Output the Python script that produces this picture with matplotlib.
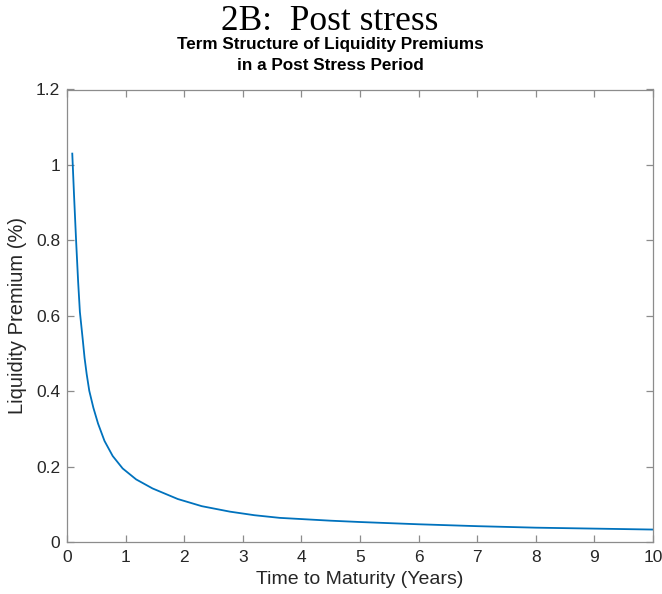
import matplotlib
matplotlib.use("Agg")
import matplotlib.pyplot as plt

# Data
maturity_years = [0.09, 0.12, 0.155, 0.19, 0.22, 0.25, 0.27, 0.30, 0.336, 0.38,
                  0.45, 0.53, 0.64, 0.78, 0.95, 1.18, 1.46, 1.89, 2.3, 2.78,
                  3.2, 3.63, 4.5, 5.0, 6.0, 7.0, 8.0, 9.0, 10.0]
liquidity_premium = [1.03, 0.92, 0.80, 0.69, 0.61, 0.565, 0.535, 0.488, 0.445,
                     0.401, 0.356, 0.314, 0.268, 0.228, 0.195, 0.166, 0.142,
                     0.114, 0.095, 0.0805, 0.071, 0.064, 0.0565, 0.053, 0.047,
                     0.042, 0.038, 0.0355, 0.033]
x_ticks = [0, 1, 2, 3, 4, 5, 6, 7, 8, 9, 10]
y_ticks = [0, 0.2, 0.4, 0.6, 0.8, 1.0, 1.2]
y_tick_labels = ["0", "0.2", "0.4", "0.6", "0.8", "1", "1.2"]

W, H = 662, 594
fig = plt.figure(figsize=(W / 100, H / 100), dpi=100)
ax = fig.add_axes([67 / W, 1 - 542 / H, (653 - 67) / W, (542 - 89.5) / H])

ax.plot(maturity_years, liquidity_premium, color="#0072BD", lw=1.3)
ax.set_xlim(0, 10)
ax.set_ylim(0, 1.2)
ax.set_xticks(x_ticks)
ax.set_xticklabels([str(t) for t in x_ticks])
ax.set_yticks(y_ticks)
ax.set_yticklabels(y_tick_labels)

axis_col = "#262626"
spine_col = "#8c8c8c"
for s in ax.spines.values():
    s.set_color(spine_col)
    s.set_linewidth(0.9)
ax.tick_params(direction="in", length=4.7, width=0.9, color=spine_col,
               top=True, right=True, labelsize=12.5, labelcolor=axis_col,
               pad=6)
for lab in ax.get_xticklabels() + ax.get_yticklabels():
    lab.set_family("Liberation Sans")
ax.tick_params(axis="y", pad=5)

ax.set_xlabel("Time to Maturity (Years)", fontsize=14, color=axis_col,
              family="Liberation Sans", labelpad=4)
ax.set_ylabel("Liquidity Premium (%)", fontsize=14.5, color=axis_col,
              family="Liberation Sans", labelpad=6)

fig.text(330 / W, 1 - 30 / H, "2B:  Post stress", ha="center", va="baseline",
         family="Liberation Serif", fontsize=25.5, color="black")
fig.text(330 / W, 1 - 48.5 / H, "Term Structure of Liquidity Premiums",
         ha="center", va="baseline", family="Liberation Sans",
         fontweight="bold", fontsize=12.3, color="black")
fig.text(330 / W, 1 - 69.5 / H, "in a Post Stress Period",
         ha="center", va="baseline", family="Liberation Sans",
         fontweight="bold", fontsize=12.3, color="black")

fig.savefig("out.png", dpi=100, facecolor="white")
